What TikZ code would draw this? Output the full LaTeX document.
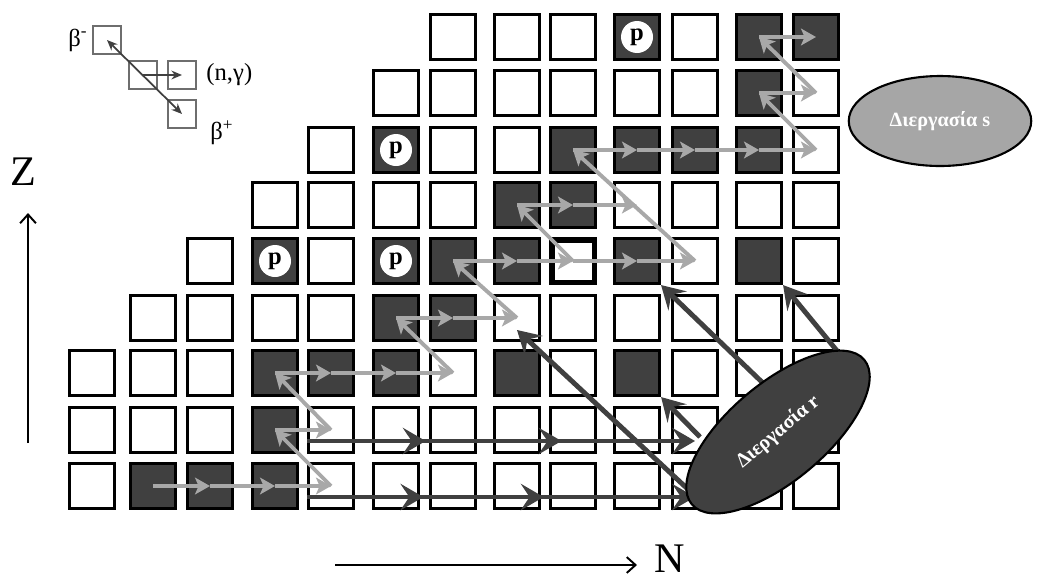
\documentclass[tikz,border=0pt]{standalone}
\usepackage{fontspec}
\setmainfont{Liberation Serif}
\usetikzlibrary{arrows.meta,positioning,shapes.geometric,decorations.markings}
\definecolor{dkgray}{HTML}{404040}
\definecolor{ltgray}{HTML}{A8A8A8}
\definecolor{keygray}{HTML}{6E6E6E}
\definecolor{ellgray}{HTML}{A6A6A6}

\begin{document}
\begin{tikzpicture}[>=Stealth,x=0.020cm,y=-0.020cm,
 cell/.style={draw,line width=1.5pt,minimum size=0.91cm,inner sep=0pt,fill=white},
 dark/.style={cell,fill=dkgray},
 pdot/.style={circle,fill=white,minimum size=0.64cm,inner sep=0pt,font=\fontsize{14}{14}\selectfont\bfseries},
 key/.style={draw=keygray,line width=1.3pt,minimum size=0.57cm,inner sep=0pt},
 keylab/.style={font=\fontsize{14}{14}\selectfont,inner sep=1pt},
 axlab/.style={font=\fontsize{24}{24}\selectfont,inner sep=0pt},
 axis/.style={line width=1.1pt,-{Straight Barb[length=5pt,width=9pt]}},
 keyarr/.style={draw=dkgray,line width=1pt},
 sarr/.style={draw=ltgray,line width=2.2pt,-{Stealth[length=8.5pt,width=9.5pt,inset=2pt]}},
 rarr/.style={draw=dkgray,line width=2.8pt,-{Stealth[length=13pt,width=15pt,inset=5pt]}},
 rmid/.style={postaction={decorate,decoration={markings,
   mark=at position #1 with {\arrow{Stealth[length=13pt,width=15pt,inset=5pt]}}}}},
 proc/.style={ellipse,draw,line width=1.2pt,text=white,inner sep=0pt,
   font=\fontsize{11.5}{12}\selectfont\bfseries}]
\useasboundingbox (0,0) rectangle (1037,579);

% chart of nuclides
\foreach \r/\y in {0/486,1/430,2/373,3/318,4/261,5/205,6/150,7/93,8/37}{
 \pgfmathtruncatemacro{\first}{max(0,\r-2)}
 \foreach \c/\x in {0/92,1/153,2/210,3/275,4/331,5/396,6/453,7/517,8/573,9/637,10/695,11/759,12/816}{
  \ifnum\c<\first\else\node[cell] (c-\c-\r) at (\x,\y) {};\fi
 }}
\foreach \c/\r in {1/0,2/0,3/0,3/1,3/2,4/2,5/2,7/2,9/2,5/3,6/3,3/4,5/4,6/4,7/4,9/4,11/4,
  7/5,8/5,5/6,8/6,9/6,10/6,11/6,11/7,9/8,11/8,12/8}
 \node[dark] (d-\c-\r) at (c-\c-\r) {};
\node[cell,line width=3.4pt,minimum size=0.86cm] (branch) at (c-8-4) {};
\foreach \c/\r in {3/4,5/4,5/6,9/8}
 \node[pdot] (p-\c-\r) at (c-\c-\r) {p};

% s-process
\foreach \a/\b in {1-0/2-0,2-0/3-0,3-0/4-0,4-0/3-1,3-1/4-1,4-1/3-2,3-2/4-2,4-2/5-2,5-2/6-2,
  6-2/5-3,5-3/6-3,6-3/7-3,7-3/6-4,6-4/7-4,7-4/8-4,8-4/9-4,9-4/10-4,8-4/7-5,7-5/8-5,8-5/9-5,
  10-4/8-6,8-6/9-6,9-6/10-6,10-6/11-6,11-6/12-6,12-6/11-7,11-7/12-7,12-7/11-8,11-8/12-8}
 \draw[sarr] (c-\a.center) -- (c-\b.center);

% r-process
\draw[rarr,rmid=0.306,rmid=0.656] ([yshift=-0.22cm]c-4-1.west) -- ([yshift=-0.22cm]c-10-1.center);
\draw[rarr,rmid=0.30,rmid=0.61] ([yshift=-0.22cm]c-4-0.west) -- ([yshift=-0.22cm]c-10-0.center);
\coordinate (ra) at (692,493);
\coordinate (rb) at (765,385);
\coordinate (rc) at (838,352);
\coordinate (rd) at (700,437);
\draw[rarr] (ra) -- ([yshift=-0.24cm]c-7-3.center);
\draw[rarr] (rb) -- (c-9-4.south east);
\draw[rarr] (rc) -- (c-11-4.south east);
\draw[rarr] (rd) -- (c-9-2.south east);
\node[proc,fill=dkgray,rotate=40,minimum width=4.5cm,minimum height=1.95cm] (rp) at (778,432) {Διεργασία r};
\node[proc,fill=ellgray,minimum width=3.65cm,minimum height=1.8cm] (sp) at (940,121) {Διεργασία s};

% legend
\node[key] (k1) at (107,40) {};
\node[key] (k2) at (143,75) {};
\node[key] (k3) at (182,75) {};
\node[key] (k4) at (182,114) {};
\draw[keyarr,{Stealth[length=6pt,width=5pt]}-{Stealth[length=6pt,width=5pt]}] (k1.center) -- (k4.center);
\draw[keyarr,-{Stealth[length=6pt,width=5pt]}] (k2.center) -- (k3.center);
\node[keylab,left=0.04cm of k1] (lbm) {β\textsuperscript{-}};
\node[keylab,right=0.14cm of k3] (lng) {(n,γ)};
\node[keylab] (lbp) at (222,133) {β\textsuperscript{+}};

% axes
\coordinate (zb) at (28,443);
\coordinate (zt) at (28,213);
\draw[axis] (zb) -- (zt);
\node[axlab] (zl) at (23,172) {Z};
\coordinate (nb) at (335,565);
\coordinate (ne) at (637,565);
\draw[axis] (nb) -- (ne);
\node[axlab] (nl) at (670,559) {N};
\end{tikzpicture}
\end{document}
